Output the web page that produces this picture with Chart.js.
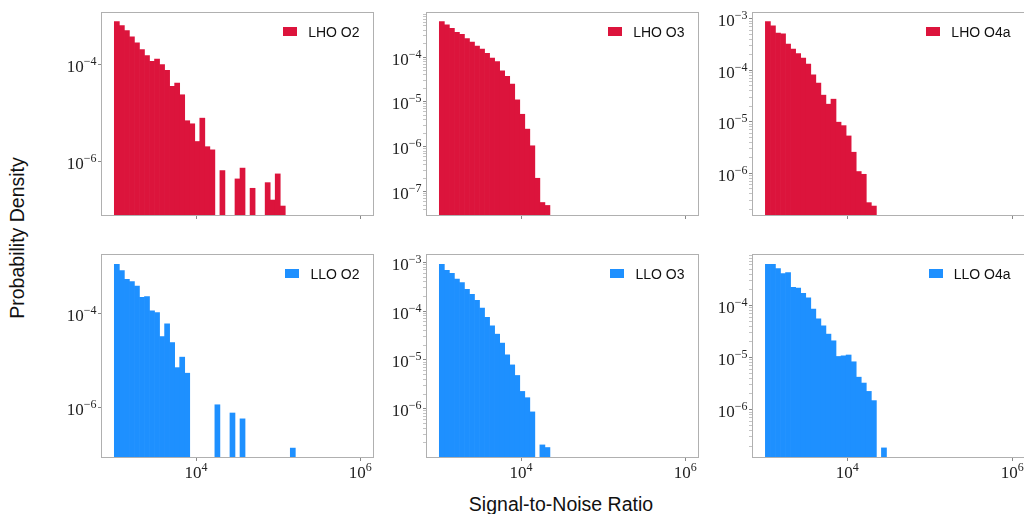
<!DOCTYPE html>
<html>
<head>
<meta charset="utf-8">
<script src="https://cdn.jsdelivr.net/npm/chart.js@4.4.1/dist/chart.umd.min.js"></script>
<style>
  html, body { margin: 0; padding: 0; background: #fff; }
  body { width: 1024px; height: 514px; position: relative; overflow: hidden; }
  .painel { position: absolute; }
  .legenda {
    position: absolute; display: flex; align-items: center; gap: 11px;
    font: 14px "Liberation Sans", Arial, sans-serif; color: #111; line-height: 14px;
  }
  .legenda span.cor { width: 14px; height: 9px; display: inline-block; }
  .titulo { position: absolute; font: 19.5px "Liberation Sans", Arial, sans-serif; color: #111; white-space: nowrap; }
</style>
</head>
<body>
<div class="titulo" id="titulo-y">Probability Density</div>
<div class="titulo" id="titulo-x">Signal-to-Noise Ratio</div>
<script>
// ==========================================
// 1. DADOS
// ==========================================
// 49 log-spaced bins between 10^3 and 10^6 (bin centres)
const binCenters = Array.from({ length: 49 }, (_, i) => Math.pow(10, 3 + (i + 0.5) * 3 / 49));

const lhoO2 = [7.8e-4, 6.45e-4, 5.08e-4, 3.75e-4, 2.82e-4, 2.05e-4, 1.54e-4, 1.17e-4, 1.31e-4, 1.0e-4,
  7.6e-5, 3.55e-5, 4.16e-5, 2.38e-5, 6.9e-6, 5.96e-6, 2.56e-6, 7.8e-6, 2.0e-6, 1.72e-6,
  null, 6.4e-7, null, null, 4.3e-7, 7.2e-7, null, 2.75e-7, null, null,
  3.6e-7, 1.57e-7, 5.46e-7, 1.18e-7];
const lhoO3 = [6.15e-4, 5.27e-4, 4.37e-4, 3.56e-4, 3.2e-4, 2.57e-4, 2.16e-4, 1.76e-4, 1.51e-4, 1.21e-4,
  9.5e-5, 7.9e-5, 4.95e-5, 3.7e-5, 2.5e-5, 1.11e-5, 5.3e-6, 2.47e-6, 1.05e-6, 1.98e-7,
  5.7e-8, 4.9e-8];
const lhoO4a = [8.75e-4, 7.3e-4, 5.27e-4, 5.1e-4, 3.21e-4, 2.57e-4, 2.09e-4, 1.72e-4, 1.31e-4, 8.15e-5,
  5.61e-5, 3.28e-5, 2.19e-5, 2.74e-5, 9.8e-6, 8.4e-6, 5.3e-6, 2.56e-6, 1.08e-6, 9.55e-7,
  2.69e-7, 2.31e-7];
const lloO2 = [1.15e-3, 8.4e-4, 5.5e-4, 4.9e-4, 3.96e-4, 2.27e-4, 2.34e-4, 1.16e-4, 1.07e-4, 3.28e-5,
  6.1e-5, 2.44e-5, 7.1e-6, 1.19e-5, 5.4e-6, null, null, null, null, null,
  1.14e-6, null, null, 7.6e-7, null, 5.7e-7, null, null, null, null,
  null, null, null, null, null, 1.35e-7];
const lloO3 = [9.1e-4, 6.86e-4, 5.96e-4, 4.56e-4, 3.84e-4, 2.8e-4, 2.22e-4, 1.67e-4, 1.15e-4, 7.5e-5,
  4.99e-5, 3.37e-5, 2.21e-5, 1.27e-5, 7.9e-6, 4.8e-6, 2.26e-6, 1.68e-6, 8.6e-7, null,
  1.81e-7, 1.6e-7];
const lloO4a = [6.2e-4, 6.2e-4, 5.1e-4, 4.1e-4, 4.3e-4, 2.24e-4, 2.15e-4, 1.72e-4, 1.40e-4, 8.5e-5,
  5.55e-5, 4.07e-5, 2.82e-5, 2.1e-5, 1.05e-5, 1.08e-5, 1.12e-5, 8.3e-6, 4.2e-6, 3.24e-6,
  2.24e-6, 1.49e-6, null, 1.84e-7];

const rotulos = ["LHO O2", "LHO O3", "LHO O4a", "LLO O2", "LLO O3", "LLO O4a"];
const series = [lhoO2, lhoO3, lhoO4a, lloO2, lloO3, lloO4a];

// y limits (log10) and labelled decades
const yLimites = [[-7.114, -2.93], [-7.52, -3.017], [-6.81, -2.89], [-7.06, -2.74], [-6.99, -2.85], [-6.91, -3.03]];
const yDecadas = [[-4, -6], [-4, -5, -6, -7], [-3, -4, -5, -6], [-4, -6], [-3, -4, -5, -6], [-4, -5, -6]];
const yMenores = [false, true, true, false, true, true];

const xLimites = [2.85, 6.15];
const xDecadas = [4, 6];

const vermelho = "#DC143C";
const azul = "#1E90FF";

// ==========================================
// 2. LAYOUT / PLUGINS
// ==========================================
const colunas = [102, 427, 753];
const linhas = [13, 255];
const larguraPlot = 271;
const alturaPlot = 202;
const eixoY = 70;
const eixoX = 40;

const serif = "'Liberation Serif', 'DejaVu Serif', serif";

const moldura = {
  id: "moldura",
  afterDatasetsDraw(chart) {
    const a = chart.chartArea;
    const ctx = chart.ctx;
    ctx.save();
    ctx.strokeStyle = "#b0b0b0";
    ctx.lineWidth = 1;
    ctx.strokeRect(Math.round(a.left) - 0.5, Math.round(a.top) - 0.5, Math.round(a.right - a.left) + 1, Math.round(a.bottom - a.top) + 1);
    ctx.restore();
  }
};

// tick labels as 10 with a raised exponent
const rotulosPotencia = {
  id: "rotulosPotencia",
  afterDraw(chart, args, opts) {
    const ctx = chart.ctx;
    const a = chart.chartArea;
    const { x, y } = chart.scales;
    ctx.save();
    ctx.fillStyle = "#222";
    ctx.textAlign = "left";
    ctx.textBaseline = "alphabetic";
    const medir = (e) => {
      ctx.font = "17px " + serif;
      const w1 = ctx.measureText("10").width;
      ctx.font = "12px " + serif;
      const exp = e < 0 ? "\u2212" + Math.abs(e) : String(e);
      const w2 = ctx.measureText(exp).width;
      return { w1, w2, exp };
    };
    const escrever = (m, x0, base) => {
      ctx.font = "17px " + serif;
      ctx.fillText("10", x0, base);
      ctx.font = "12px " + serif;
      ctx.fillText(m.exp, x0 + m.w1, base - 7);
    };
    opts.yDecadas.forEach(e => {
      const py = y.getPixelForValue(Math.pow(10, e));
      const m = medir(e);
      escrever(m, a.left - 5.5 - m.w1 - m.w2, py + 7.5);
    });
    if (opts.mostrarX) {
      opts.xDecadas.forEach(e => {
        const px = x.getPixelForValue(Math.pow(10, e));
        const m = medir(e);
        escrever(m, px - (m.w1 + m.w2) / 2 - 0.5, a.bottom + 20.5);
      });
    }
    ctx.restore();
  }
};

function criarPainel(idx) {
  const col = idx % 3;
  const lin = Math.floor(idx / 3);
  const largura = larguraPlot + (col === 2 ? 1 : 0);
  const cor = lin === 0 ? vermelho : azul;

  const div = document.createElement("div");
  div.className = "painel";
  div.style.left = (colunas[col] - eixoY) + "px";
  div.style.top = (linhas[lin] - 10) + "px";
  const w = eixoY + largura + 10;
  const h = 10 + alturaPlot + eixoX;
  div.style.width = w + "px";
  div.style.height = h + "px";
  const canvas = document.createElement("canvas");
  canvas.width = w;
  canvas.height = h;
  div.appendChild(canvas);

  const leg = document.createElement("div");
  leg.className = "legenda";
  leg.style.right = (10 + 13.5 + (largura - larguraPlot)) + "px";
  leg.style.top = (10 + 11.5) + "px";
  leg.innerHTML = `<span class="cor" style="background:${cor}"></span><span>${rotulos[idx]}</span>`;
  div.appendChild(leg);
  document.body.appendChild(div);

  const valores = series[idx];
  const dados = binCenters.map((x, i) => ({ x, y: i < valores.length ? valores[i] : null }));

  const [y0, y1] = yLimites[idx];
  const maiores = yDecadas[idx].map(e => Math.pow(10, e));
  const ticksY = [];
  for (let d = Math.floor(y0); d <= Math.ceil(y1); d++) {
    if (yDecadas[idx].includes(d)) ticksY.push({ value: Math.pow(10, d) });
    if (yMenores[idx]) {
      for (let k = 2; k <= 9; k++) {
        const v = k * Math.pow(10, d);
        const l = Math.log10(v);
        if (l > y0 && l < y1) ticksY.push({ value: v });
      }
    }
  }
  ticksY.sort((a, b) => a.value - b.value);
  const ehMaior = v => maiores.some(m => Math.abs(v / m - 1) < 1e-6);

  new Chart(canvas, {
    type: "bar",
    data: {
      datasets: [{
        label: rotulos[idx],
        data: dados,
        backgroundColor: cor,
        borderWidth: 0,
        barPercentage: 1,
        categoryPercentage: 1
      }]
    },
    options: {
      responsive: false,
      animation: false,
      events: [],
      layout: { padding: { top: 10, right: 10, bottom: 0, left: 0 } },
      plugins: {
        legend: { display: false },
        tooltip: { enabled: false },
        rotulosPotencia: { yDecadas: yDecadas[idx], xDecadas, mostrarX: lin === 1 }
      },
      scales: {
        x: {
          type: "logarithmic",
          offset: false,
          min: Math.pow(10, xLimites[0]),
          max: Math.pow(10, xLimites[1]),
          afterBuildTicks: s => { s.ticks = xDecadas.map(e => ({ value: Math.pow(10, e) })); },
          afterFit: s => { s.height = eixoX; s.paddingLeft = 0; s.paddingRight = 0; },
          grid: { offset: false, drawOnChartArea: false, drawTicks: true, tickLength: 4, color: "#888" },
          border: { display: false },
          ticks: { display: false }
        },
        y: {
          type: "logarithmic",
          min: Math.pow(10, y0),
          max: Math.pow(10, y1),
          afterBuildTicks: s => { s.ticks = ticksY; },
          afterFit: s => { s.width = eixoY; s.paddingTop = 0; s.paddingBottom = 0; },
          grid: {
            drawOnChartArea: false, drawTicks: true, tickLength: 4,
            tickColor: c => ehMaior(c.tick.value) ? "#888" : "#aaa",
            tickWidth: c => ehMaior(c.tick.value) ? 1 : 0.7
          },
          border: { display: false },
          ticks: { display: false }
        }
      }
    },
    plugins: [moldura, rotulosPotencia]
  });
}

// ==========================================
// 3. RENDERIZAÇÃO
// ==========================================
for (let i = 0; i < 6; i++) criarPainel(i);

const ty = document.getElementById("titulo-y");
ty.style.left = "16.5px";
ty.style.top = "237.5px";
ty.style.transform = "translate(-50%, -50%) rotate(-90deg)";

const tx = document.getElementById("titulo-x");
tx.style.left = "561px";
tx.style.top = "504px";
tx.style.transform = "translate(-50%, -50%)";
</script>
</body>
</html>
